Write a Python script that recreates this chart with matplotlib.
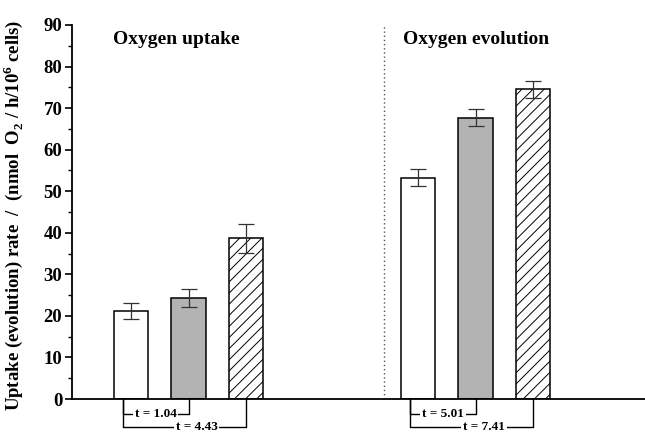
import matplotlib
matplotlib.use("Agg")
import matplotlib.pyplot as plt
from matplotlib.ticker import MultipleLocator

plt.rcParams['font.family'] = ['Liberation Serif', 'DejaVu Serif']
plt.rcParams['font.weight'] = 'bold'
plt.rcParams['mathtext.fontset'] = 'custom'
plt.rcParams['mathtext.rm'] = 'Liberation Serif:bold'
plt.rcParams['mathtext.bf'] = 'Liberation Serif:bold'
plt.rcParams['hatch.linewidth'] = 0.7

# Data
groups = ["Oxygen uptake", "Oxygen evolution"]
positions = [0, 1, 2, 5, 6, 7]
values = [21.2, 24.3, 38.7, 53.3, 67.7, 74.5]
errors = [2.0, 2.1, 3.5, 2.0, 2.0, 2.0]
styles = ["white", "gray", "hatch", "white", "gray", "hatch"]
group_centers = [0.78, 6.0]
divider_x = 4.4
# t-test brackets: (start bar index, end bar index, label, level)
brackets = [(0, 1, "t = 1.04", 1), (0, 2, "t = 4.43", 2),
            (3, 4, "t = 5.01", 1), (3, 5, "t = 7.41", 2)]

fig = plt.figure(figsize=(6.45, 4.34), dpi=100)
ax = fig.add_axes([0.1116, 0.0806, 0.8884, 0.8618])

for x, v, e, s in zip(positions, values, errors, styles):
    fc = {"white": "white", "gray": "#b3b3b3", "hatch": "white"}[s]
    ax.bar(x, v, width=0.6, color=fc, edgecolor="black", linewidth=1.1,
           hatch="///" if s == "hatch" else None, zorder=2)
    ax.errorbar(x, v, yerr=e, fmt="none", ecolor="#333333", elinewidth=0.9,
                capsize=5.5, capthick=0.9, zorder=3)

ax.axvline(divider_x, ymin=0, ymax=1, color="#555555", linestyle=(0, (1, 2)),
           linewidth=1.0, zorder=1)

for gc, g in zip(group_centers, groups):
    ax.text(gc, 86.6, g, ha="center", va="center", fontsize=14, fontweight="bold")

ax.set_xlim(-1.03, 8.95)
ax.set_ylim(0, 90)
ax.yaxis.set_major_locator(MultipleLocator(10))
ax.yaxis.set_minor_locator(MultipleLocator(5))
ax.tick_params(axis="y", which="major", direction="out", length=5, width=1.2,
               labelsize=13.5, pad=2)
ax.tick_params(axis="y", which="minor", direction="out", length=3, width=1.0)
ax.tick_params(axis="x", bottom=False, labelbottom=False)
for lbl in ax.get_yticklabels():
    lbl.set_fontweight("bold")
ax.spines["top"].set_visible(False)
ax.spines["right"].set_visible(False)
ax.spines["left"].set_linewidth(1.3)
ax.spines["bottom"].set_linewidth(1.3)

ax.set_ylabel("Uptake (evolution) rate  /  (nmol  O$_2$ / h/10$^6$ cells)",
              fontsize=13.5, fontweight="bold")
ax.yaxis.set_label_coords(-0.082, 0.49)

level_y = {1: -3.6, 2: -6.7}
for i0, i1, lab, lvl in brackets:
    x0 = positions[i0] - 0.15
    x1 = positions[i1]
    y = level_y[lvl]
    ax.plot([x0, x0, x1, x1], [0, y, y, 0], color="black", linewidth=1.0,
            clip_on=False, zorder=4)
    frac = 0.5 if lvl == 1 else 0.6
    ax.text(x0 + frac * (x1 - x0), y, lab, ha="center", va="center",
            fontsize=9.5, fontweight="bold", clip_on=False, zorder=5,
            bbox=dict(boxstyle="square,pad=0.15", facecolor="white",
                      edgecolor="none"))

fig.savefig("out.png", dpi=100)
